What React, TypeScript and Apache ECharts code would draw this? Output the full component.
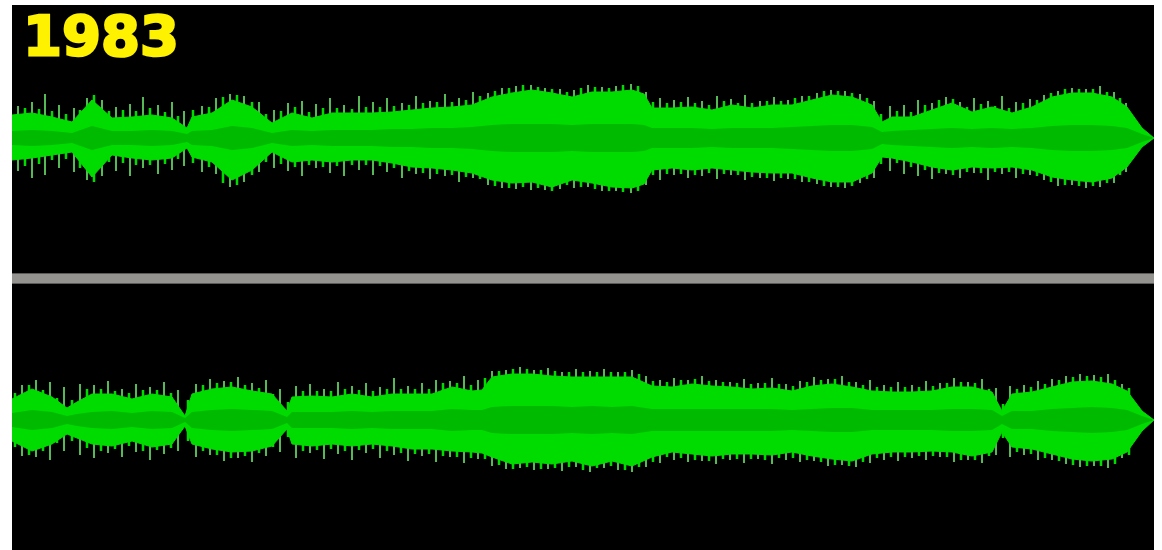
import React, { useEffect, useRef } from "react";
import * as echarts from "echarts";

const TITLE = "1983";

// ---- Upper channel (left) ----
const TOP_X = [0, 20, 40, 60, 80, 100, 120, 140, 160, 175, 180, 200, 220, 240, 260, 280, 300, 320, 340, 360, 380, 400, 420, 440, 460, 480, 500, 520, 540, 560, 580, 600, 620, 632, 640, 660, 680, 700, 720, 740, 760, 780, 800, 820, 840, 860, 870, 880, 900, 920, 940, 960, 980, 1000, 1020, 1040, 1060, 1080, 1100, 1115, 1130, 1142];
const TOP_UP = [23, 25, 21, 16, 38, 20, 21, 23, 20, 10, 21, 25, 38, 31, 15, 25, 20, 25, 25, 25, 26, 28, 30, 31, 33, 41, 45, 48, 45, 41, 46, 46, 48, 44, 30, 30, 31, 28, 33, 30, 33, 33, 38, 43, 41, 33, 16, 21, 21, 28, 35, 26, 31, 25, 31, 41, 45, 45, 41, 31, 10, 0];
const TOP_DOWN = [22, 20, 17, 14, 39, 17, 20, 22, 20, 10, 19, 24, 42, 32, 14, 24, 22, 24, 22, 22, 25, 29, 30, 32, 35, 42, 45, 44, 49, 42, 45, 49, 50, 46, 32, 30, 32, 30, 32, 34, 35, 35, 40, 44, 44, 35, 19, 20, 24, 29, 32, 29, 30, 29, 32, 39, 42, 44, 40, 29, 9, 0];
const TOP_IN = [7, 8, 7, 5, 12, 7, 7, 8, 7, 4, 7, 8, 12, 10, 5, 8, 7, 8, 8, 8, 9, 9, 10, 10, 11, 13, 14, 14, 14, 13, 14, 14, 14, 13, 10, 10, 10, 9, 10, 10, 10, 11, 12, 13, 13, 11, 6, 7, 8, 9, 10, 9, 10, 9, 10, 12, 13, 13, 12, 10, 4, 0];
const TOP_SPIKE_X = [6, 20, 33, 47, 62, 75, 90, 104, 118, 131, 146, 160, 172, 190, 204, 218, 232, 247, 262, 276, 290, 304, 318, 332, 347, 361, 375, 390, 404, 418, 433, 447, 461, 476, 490, 504, 519, 533, 548, 562, 576, 590, 604, 619, 634, 648, 662, 676, 690, 705, 719, 733, 748, 762, 776, 790, 805, 819, 833, 848, 862, 878, 892, 906, 920, 934, 948, 962, 976, 990, 1004, 1018, 1032, 1046, 1060, 1074, 1088, 1102, 1114];
const TOP_SPIKE_UP = [32, 36, 44, 33, 30, 40, 38, 31, 34, 41, 33, 36, 27, 32, 40, 44, 42, 36, 28, 35, 37, 34, 40, 33, 42, 36, 40, 35, 42, 37, 44, 40, 46, 45, 50, 52, 53, 50, 49, 48, 53, 51, 52, 54, 46, 40, 38, 41, 37, 42, 39, 43, 37, 41, 38, 42, 45, 48, 47, 44, 37, 32, 33, 38, 35, 41, 36, 40, 37, 42, 36, 39, 43, 47, 50, 49, 52, 46, 35];
const TOP_SPIKE_DOWN = [33, 40, 37, 30, 34, 42, 38, 33, 38, 30, 36, 32, 28, 34, 36, 49, 44, 34, 30, 33, 38, 30, 35, 38, 32, 37, 34, 40, 36, 41, 38, 44, 40, 47, 50, 51, 52, 52, 51, 50, 49, 53, 53, 55, 47, 42, 37, 40, 38, 41, 37, 42, 40, 43, 41, 44, 46, 49, 50, 45, 40, 33, 36, 38, 41, 36, 40, 35, 42, 36, 40, 37, 42, 48, 47, 50, 49, 45, 34];
const TOP_BUMP_X = [13, 27, 40, 54, 68, 82, 97, 111, 124, 138, 153, 166, 181, 197, 211, 225, 240, 254, 269, 283, 297, 311, 325, 340, 354, 368, 382, 397, 411, 425, 440, 454, 468, 483, 497, 511, 526, 540, 555, 569, 583, 597, 611, 626, 641, 655, 669, 683, 697, 712, 726, 740, 755, 769, 783, 797, 812, 826, 840, 855, 869, 885, 899, 913, 927, 941, 955, 969, 983, 997, 1011, 1025, 1039, 1053, 1067, 1081, 1095, 1108];
const TOP_BUMP_UP = [30, 29, 27, 24, 28, 43, 27, 28, 27, 30, 26, 22, 28, 31, 41, 43, 36, 24, 27, 31, 26, 30, 30, 29, 31, 31, 32, 33, 35, 36, 36, 38, 42, 47, 50, 53, 51, 49, 46, 50, 51, 50, 53, 52, 36, 35, 36, 35, 33, 37, 35, 35, 37, 37, 40, 42, 47, 47, 45, 40, 24, 27, 26, 33, 38, 39, 31, 34, 32, 30, 35, 38, 45, 49, 49, 49, 46, 40];
const TOP_BUMP_DOWN = [28, 26, 22, 21, 30, 44, 24, 25, 27, 27, 26, 21, 25, 29, 45, 47, 37, 24, 26, 29, 27, 29, 28, 27, 27, 28, 30, 33, 35, 36, 37, 39, 41, 48, 50, 49, 50, 53, 47, 49, 51, 53, 54, 53, 37, 36, 36, 37, 35, 36, 37, 39, 40, 40, 41, 44, 48, 49, 48, 41, 26, 25, 29, 32, 35, 37, 34, 35, 34, 34, 36, 38, 44, 47, 48, 48, 45, 37];

// ---- Lower channel (right) ----
const BOT_X = [0, 20, 40, 55, 65, 80, 100, 120, 140, 160, 173, 180, 200, 220, 240, 260, 275, 280, 300, 320, 340, 360, 380, 400, 420, 440, 460, 470, 480, 500, 520, 540, 560, 580, 600, 620, 640, 660, 680, 700, 720, 740, 760, 780, 800, 820, 840, 860, 880, 900, 920, 940, 960, 980, 990, 1000, 1020, 1040, 1060, 1080, 1100, 1115, 1130, 1142];
const BOT_UP = [21, 31, 23, 12, 18, 26, 26, 21, 26, 23, 4, 26, 31, 33, 29, 26, 9, 23, 24, 23, 26, 23, 26, 26, 26, 33, 29, 30, 43, 46, 46, 44, 43, 43, 43, 43, 34, 33, 36, 34, 33, 31, 32, 29, 34, 36, 33, 29, 28, 28, 29, 33, 33, 28, 9, 26, 28, 33, 38, 39, 36, 29, 9, 0];
const BOT_DOWN = [21, 31, 24, 14, 18, 24, 26, 21, 27, 24, 6, 24, 29, 32, 31, 26, 9, 24, 26, 24, 26, 24, 26, 29, 29, 31, 32, 33, 37, 44, 42, 44, 41, 46, 41, 46, 37, 32, 34, 36, 34, 34, 35, 32, 36, 39, 41, 34, 32, 32, 31, 32, 36, 32, 12, 27, 29, 34, 39, 41, 39, 32, 11, 0];
const BOT_IN = [7, 10, 8, 4, 6, 8, 9, 7, 9, 8, 2, 8, 10, 11, 10, 9, 3, 8, 8, 8, 9, 8, 9, 9, 9, 11, 10, 10, 13, 14, 14, 14, 13, 14, 13, 14, 11, 11, 11, 11, 11, 11, 11, 10, 11, 12, 12, 10, 10, 10, 10, 11, 11, 10, 4, 9, 9, 11, 12, 13, 12, 10, 4, 0];
const BOT_SPIKE_X = [10, 24, 38, 52, 68, 82, 96, 110, 124, 138, 152, 166, 184, 198, 212, 226, 240, 254, 268, 284, 298, 312, 326, 340, 354, 368, 382, 396, 410, 424, 438, 452, 466, 480, 494, 508, 522, 536, 550, 564, 578, 592, 606, 620, 634, 648, 662, 676, 690, 704, 718, 732, 746, 760, 774, 788, 802, 816, 830, 844, 858, 872, 886, 900, 914, 928, 942, 956, 970, 984, 998, 1012, 1026, 1040, 1054, 1068, 1082, 1096, 1110];
const BOT_SPIKE_UP = [35, 40, 38, 33, 36, 35, 39, 31, 36, 33, 38, 30, 36, 41, 39, 43, 37, 40, 31, 34, 36, 31, 38, 34, 37, 33, 42, 34, 37, 40, 39, 44, 40, 49, 50, 53, 50, 52, 48, 51, 49, 51, 48, 50, 44, 40, 42, 40, 44, 40, 38, 41, 37, 42, 36, 39, 43, 41, 44, 38, 40, 35, 38, 35, 39, 37, 42, 38, 41, 32, 34, 35, 39, 41, 44, 46, 45, 46, 36];
const BOT_SPIKE_DOWN = [36, 37, 40, 31, 35, 38, 33, 37, 32, 40, 34, 31, 37, 35, 41, 38, 42, 36, 32, 38, 33, 39, 34, 40, 33, 38, 35, 41, 36, 42, 37, 43, 39, 46, 49, 48, 50, 49, 51, 47, 52, 48, 50, 52, 47, 43, 40, 42, 41, 44, 40, 43, 39, 44, 40, 42, 41, 46, 45, 47, 43, 40, 41, 38, 40, 37, 42, 40, 43, 35, 37, 35, 40, 40, 44, 47, 46, 48, 38];
const BOT_BUMP_X = [3, 17, 31, 45, 60, 75, 89, 103, 117, 131, 145, 159, 176, 191, 205, 219, 233, 247, 261, 276, 291, 305, 319, 333, 347, 361, 375, 389, 403, 417, 431, 445, 459, 473, 487, 501, 515, 529, 543, 557, 571, 585, 599, 613, 627, 641, 655, 669, 683, 697, 711, 725, 739, 753, 767, 781, 795, 809, 823, 837, 851, 865, 879, 893, 907, 921, 935, 949, 963, 977, 991, 1005, 1019, 1033, 1047, 1061, 1075, 1089, 1103, 1117];
const BOT_BUMP_UP = [27, 35, 30, 22, 20, 31, 31, 29, 27, 30, 30, 27, 20, 35, 37, 38, 35, 32, 26, 18, 29, 29, 29, 31, 30, 29, 31, 31, 31, 31, 37, 37, 35, 42, 49, 51, 51, 50, 49, 48, 48, 48, 48, 48, 46, 39, 38, 40, 41, 39, 38, 37, 36, 37, 36, 34, 38, 40, 41, 38, 35, 33, 33, 33, 33, 34, 37, 38, 37, 31, 16, 31, 33, 36, 40, 43, 44, 43, 40, 32];
const BOT_BUMP_DOWN = [27, 35, 31, 23, 21, 28, 31, 29, 26, 31, 30, 28, 21, 31, 35, 38, 36, 33, 27, 17, 31, 30, 29, 31, 30, 29, 31, 33, 34, 34, 36, 37, 38, 39, 45, 49, 47, 49, 48, 47, 50, 48, 46, 50, 47, 42, 37, 38, 40, 41, 39, 39, 39, 40, 38, 38, 40, 42, 45, 46, 42, 38, 37, 37, 36, 36, 37, 40, 40, 36, 18, 32, 34, 38, 41, 45, 46, 46, 44, 35];

const BRIGHT = "#00dc00";
const DARK = "#00ba00";
const SPIKE = "#55b955";

function spikeSeries(idx: number, xs: number[], up: number[], down: number[], color: string, width: number): any {
  return {
    type: "custom",
    xAxisIndex: idx,
    yAxisIndex: idx,
    silent: true,
    data: xs.map((x, i) => [x, up[i], down[i]]),
    encode: { x: 0, y: [1, 2] },
    renderItem: (_p: any, api: any) => {
      const a = api.coord([api.value(0), api.value(1)]);
      const b = api.coord([api.value(0), -api.value(2)]);
      return {
        type: "line",
        shape: { x1: a[0], y1: a[1], x2: b[0], y2: b[1] },
        style: { stroke: color, lineWidth: width },
      };
    },
  };
}

function channelSeries(
  idx: number,
  xs: number[],
  up: number[],
  down: number[],
  inner: number[],
  sx: number[],
  sUp: number[],
  sDown: number[],
  bx: number[],
  bUp: number[],
  bDown: number[]
): any[] {
  const common = {
    type: "line",
    xAxisIndex: idx,
    yAxisIndex: idx,
    symbol: "none",
    silent: true,
    smooth: false,
  };
  return [
    spikeSeries(idx, sx, sUp, sDown, SPIKE, 2),
    spikeSeries(idx, bx, bUp, bDown, BRIGHT, 2.5),
    {
      ...common,
      data: xs.map((x, i) => [x, up[i]]),
      lineStyle: { color: BRIGHT, width: 1 },
      areaStyle: { color: BRIGHT, opacity: 1, origin: 0 },
    },
    {
      ...common,
      data: xs.map((x, i) => [x, -down[i]]),
      lineStyle: { color: BRIGHT, width: 1 },
      areaStyle: { color: BRIGHT, opacity: 1, origin: 0 },
    },
    {
      ...common,
      data: xs.map((x, i) => [x, inner[i]]),
      lineStyle: { color: DARK, width: 0 },
      areaStyle: { color: DARK, opacity: 1, origin: 0 },
    },
    {
      ...common,
      data: xs.map((x, i) => [x, -inner[i]]),
      lineStyle: { color: DARK, width: 0 },
      areaStyle: { color: DARK, opacity: 1, origin: 0 },
    },
  ];
}

export default function App() {
  const ref = useRef<HTMLDivElement>(null);
  useEffect(() => {
    if (!ref.current) return;
    const chart = echarts.init(ref.current, undefined, { renderer: "svg" });
    const axisX = (i: number) => ({
      type: "value",
      gridIndex: i,
      min: 0,
      max: 1142,
      show: false,
    });
    const axisY = (i: number) => ({
      type: "value",
      gridIndex: i,
      min: -70,
      max: 70,
      show: false,
    });
    chart.setOption({
      animation: false,
      backgroundColor: "#ffffff",
      grid: [
        { left: 12, top: 68, width: 1142, height: 140 },
        { left: 12, top: 350, width: 1142, height: 140 },
      ],
      xAxis: [axisX(0), axisX(1)],
      yAxis: [axisY(0), axisY(1)],
      graphic: [
        {
          type: "rect",
          z: -10,
          silent: true,
          shape: { x: 12, y: 5, width: 1142, height: 545 },
          style: { fill: "#000000" },
        },
        {
          type: "rect",
          z: -9,
          silent: true,
          shape: { x: 12, y: 273, width: 1142, height: 11 },
          style: { fill: "#5c5a58" },
        },
        {
          type: "rect",
          z: -8,
          silent: true,
          shape: { x: 12, y: 274, width: 1142, height: 9 },
          style: { fill: "#959390" },
        },
        {
          type: "text",
          z: 10,
          silent: true,
          x: 23,
          y: 7,
          style: {
            text: TITLE,
            fill: "#fff200",
            stroke: "#fff200",
            lineWidth: 2.5,
            font: "bold 56px 'DejaVu Sans'",
            textVerticalAlign: "top",
          },
        },
      ],
      series: [
        ...channelSeries(0, TOP_X, TOP_UP, TOP_DOWN, TOP_IN, TOP_SPIKE_X, TOP_SPIKE_UP, TOP_SPIKE_DOWN, TOP_BUMP_X, TOP_BUMP_UP, TOP_BUMP_DOWN),
        ...channelSeries(1, BOT_X, BOT_UP, BOT_DOWN, BOT_IN, BOT_SPIKE_X, BOT_SPIKE_UP, BOT_SPIKE_DOWN, BOT_BUMP_X, BOT_BUMP_UP, BOT_BUMP_DOWN),
      ],
    });
    return () => chart.dispose();
  }, []);
  return (
    <div
      ref={ref}
      style={{ position: "fixed", left: 0, top: 0, width: 1162, height: 550 }}
    />
  );
}
